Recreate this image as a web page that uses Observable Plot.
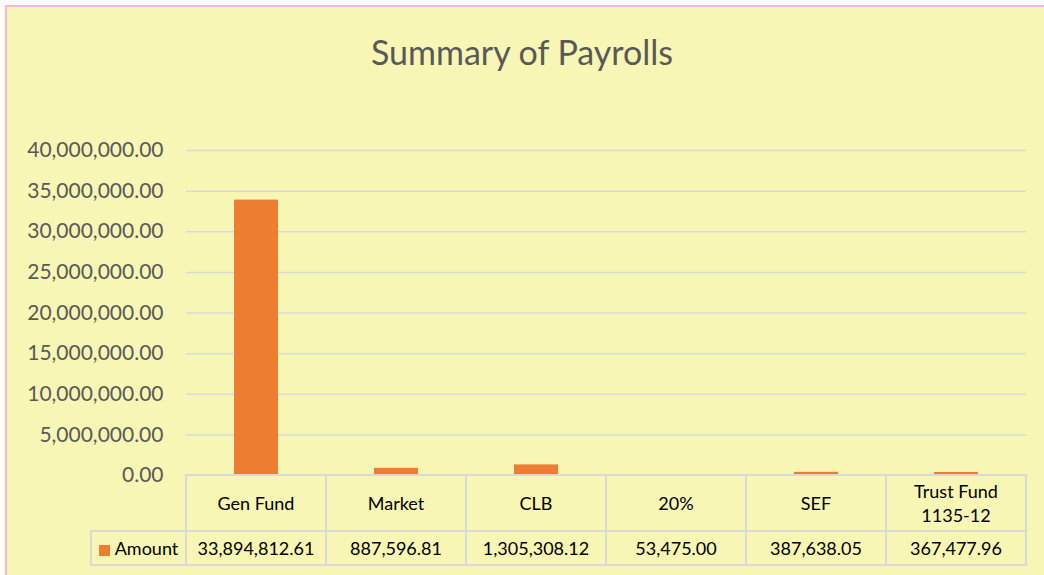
<!DOCTYPE html>
<html>
<head>
<meta charset="utf-8">
<script src="https://cdn.jsdelivr.net/npm/d3@7"></script>
<script src="https://cdn.jsdelivr.net/npm/@observablehq/plot@0.6"></script>
<style>
  html, body { margin: 0; padding: 0; background: #ffffff; }
  #frame { position: relative; width: 1044px; height: 575px; overflow: hidden; background: #ffffff; font-family: Lato, "Open Sans", sans-serif; }
  #bg { position: absolute; left: 5px; top: 5px; right: 0; bottom: 0; background: #F8F6B4; border-top: 2px solid #F7B5DE; border-left: 2px solid #F7B5DE; }
  #title { position: absolute; left: 0; width: 1044px; top: 31px; text-align: center; font-size: 34px; color: #595959; }
  #chart { position: absolute; left: 0; top: 130px; }
  #tbl { position: absolute; left: 90px; top: 474px; border-collapse: collapse; font-size: 18px; color: #000; }
  #tbl td { border: 2px solid #D9D9D9; text-align: center; padding: 0; }
  #tbl td.blank { border: none; border-right: 2px solid #D9D9D9; border-bottom: 2px solid #D9D9D9; }
  .sw { display: inline-block; width: 11px; height: 11px; background: #ED7D31; margin-right: 5px; vertical-align: -1px; }
</style>
</head>
<body>
<div id="frame">
  <div id="bg"></div>
  <div id="title">Summary of Payrolls</div>
  <div id="chart"></div>
  <table id="tbl"></table>
</div>
<script>
const categories = ["Gen Fund", "Market", "CLB", "20%", "SEF", "Trust Fund\n1135-12"];
const amounts = [33894812.61, 887596.81, 1305308.12, 53475.00, 387638.05, 367477.96];
const yTicks = [0, 5000000, 10000000, 15000000, 20000000, 25000000, 30000000, 35000000, 40000000];
const seriesName = "Amount";

const data = categories.map((c, i) => ({category: c, amount: amounts[i]}));
const fmt = d3.format(",.2f");

const chart = Plot.plot({
  width: 1044,
  height: 346,
  marginLeft: 186,
  marginRight: 18,
  marginTop: 20,
  marginBottom: 1,
  style: {background: "transparent", fontFamily: "Lato, 'Open Sans', sans-serif", fontSize: "21px", color: "#595959", overflow: "visible"},
  x: {domain: categories, paddingInner: 0.686, paddingOuter: 0.343, axis: null},
  y: {domain: [0, 40000000], ticks: yTicks, tickFormat: fmt, label: null},
  marks: [
    Plot.gridY(yTicks.filter(t => t > 0), {stroke: "#D9D9D9", strokeOpacity: 1, strokeWidth: 1.5}),
    Plot.axisY({ticks: yTicks, tickFormat: fmt, tickSize: 0, tickPadding: 23, label: null, fill: "#595959"}),
    Plot.barY(data, {x: "category", y: "amount", fill: "#ED7D31"})
  ]
});
document.getElementById("chart").appendChild(chart);

const tbl = document.getElementById("tbl");
const r1 = document.createElement("tr");
const blank = document.createElement("td");
blank.className = "blank";
blank.style.width = "94px";
r1.appendChild(blank);
categories.forEach(c => {
  const td = document.createElement("td");
  td.style.width = "138px";
  td.style.height = "54px";
  td.style.lineHeight = "24px";
  td.innerHTML = c.split("\n").join("<br>");
  r1.appendChild(td);
});
tbl.appendChild(r1);
const r2 = document.createElement("tr");
const lab = document.createElement("td");
lab.style.height = "32px";
lab.innerHTML = '<span class="sw"></span>' + seriesName;
r2.appendChild(lab);
amounts.forEach(v => {
  const td = document.createElement("td");
  td.textContent = fmt(v);
  r2.appendChild(td);
});
tbl.appendChild(r2);
</script>
</body>
</html>
